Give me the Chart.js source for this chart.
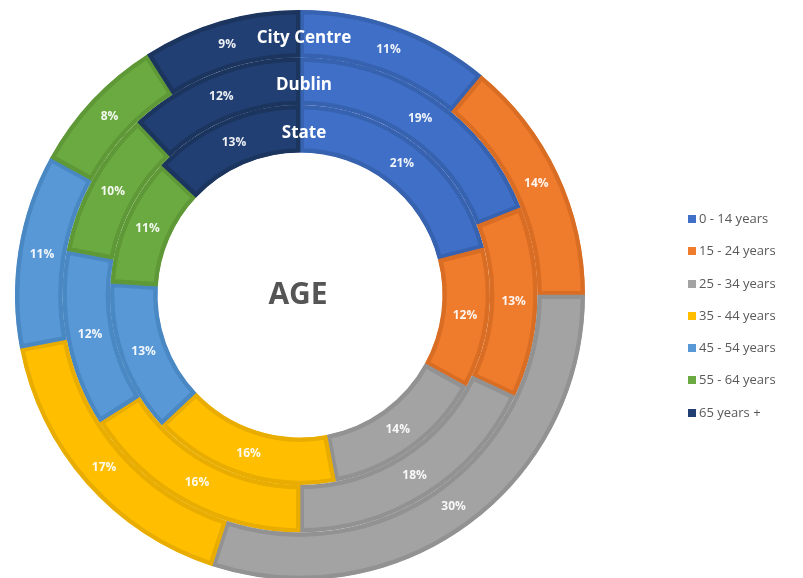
<!DOCTYPE html>
<html>
<head>
<meta charset="utf-8">
<script src="https://cdn.jsdelivr.net/npm/chart.js@4.4.1/dist/chart.umd.min.js"></script>
<style>
  html, body { margin: 0; padding: 0; background: #ffffff; overflow: hidden; }
  #wrap { position: absolute; left: 0; top: 0; width: 803px; height: 590px; }
  #legend { position: absolute; left: 688px; top: 208px; font-family: "Open Sans", sans-serif; font-size: 13px; color: #595959; }
  #legend div { height: 32.3px; line-height: 20px; white-space: nowrap; }
  #legend span.sw { display: inline-block; width: 8px; height: 8px; margin-right: 3px; vertical-align: 0px; }
</style>
</head>
<body>
<div id="wrap"><canvas id="c" width="803" height="590"></canvas></div>
<div id="legend"></div>
<script>
const categories = ["0 - 14 years", "15 - 24 years", "25 - 34 years", "35 - 44 years", "45 - 54 years", "55 - 64 years", "65 years +"];
const ringNames = ["City Centre", "Dublin", "State"];
const cityCentre = [11, 14, 30, 17, 11, 8, 9];
const dublin = [19, 13, 18, 16, 12, 10, 12];
const state = [21, 12, 14, 16, 13, 11, 13];
const fillColors = ["#3f6fc6", "#ef7b2c", "#a3a3a3", "#ffbf00", "#5898d6", "#6baa41", "#213f73"];
const edgeColors = ["#3662b0", "#d96d24", "#929292", "#e8ad00", "#4a88c4", "#5e9837", "#1b355f"];

const legend = document.getElementById('legend');
categories.forEach((c, i) => {
  const d = document.createElement('div');
  d.innerHTML = '<span class="sw" style="background:' + fillColors[i] + '"></span>' + c;
  legend.appendChild(d);
});

const labelPlugin = {
  id: 'labels',
  afterDatasetsDraw(chart) {
    const ctx = chart.ctx;
    ctx.save();
    let cx = 0, cy = 0;
    chart.data.datasets.forEach((ds, di) => {
      const meta = chart.getDatasetMeta(di);
      meta.data.forEach((arc, i) => {
        const p = arc.getProps(['x', 'y', 'startAngle', 'endAngle', 'innerRadius', 'outerRadius'], true);
        cx = p.x; cy = p.y;
        const mid = (p.startAngle + p.endAngle) / 2;
        const r = (p.innerRadius + p.outerRadius) / 2;
        ctx.font = 'bold 12px "Open Sans", sans-serif';
        ctx.fillStyle = 'rgba(255,255,255,0.92)';
        ctx.textAlign = 'center';
        ctx.textBaseline = 'middle';
        ctx.fillText(ds.data[i] + '%', p.x + Math.cos(mid) * r, p.y + Math.sin(mid) * r);
      });
      const a0 = meta.data[0].getProps(['x', 'y', 'innerRadius', 'outerRadius'], true);
      const rr = (a0.innerRadius + a0.outerRadius) / 2;
      ctx.font = 'bold 17px "Open Sans", sans-serif';
      ctx.fillStyle = '#ffffff';
      ctx.textAlign = 'center';
      ctx.textBaseline = 'middle';
      ctx.fillText(ringNames[di], a0.x + 4, a0.y - rr + 4);
    });
    ctx.font = 'bold 30px "Open Sans", sans-serif';
    ctx.fillStyle = '#555555';
    ctx.textAlign = 'center';
    ctx.textBaseline = 'middle';
    ctx.fillText('AGE', cx - 2, cy);
    ctx.restore();
  }
};

const series = [cityCentre, dublin, state];
new Chart(document.getElementById('c'), {
  type: 'doughnut',
  data: {
    labels: categories,
    datasets: series.map((s, i) => ({
      label: ringNames[i],
      data: s,
      backgroundColor: fillColors,
      borderColor: edgeColors,
      borderWidth: 4,
      borderAlign: 'inner'
    }))
  },
  options: {
    responsive: false,
    animation: false,
    devicePixelRatio: 1,
    cutout: '50%',
    layout: { padding: { left: 15, right: 218, top: 10, bottom: 10 } },
    plugins: { legend: { display: false }, tooltip: { enabled: false } }
  },
  plugins: [labelPlugin]
});
</script>
</body>
</html>
